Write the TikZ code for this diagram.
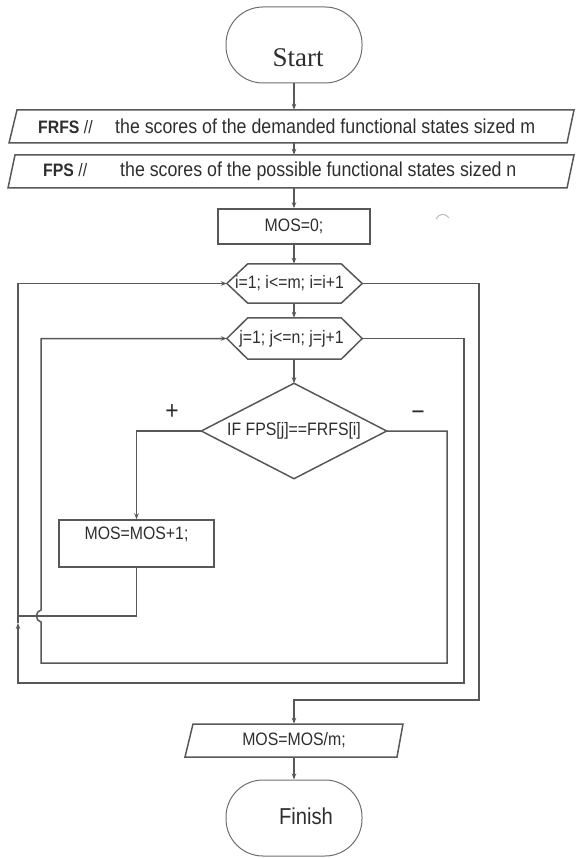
\documentclass[tikz,border=0pt]{standalone}
\usepackage{fontspec}
\setmainfont{Liberation Sans}[FakeStretch=0.88]
\newfontfamily\startfont{Liberation Serif}
\usetikzlibrary{arrows.meta}
\definecolor{linec}{HTML}{585858}
\definecolor{textc}{HTML}{2E2E2E}
\definecolor{termc}{HTML}{6E6E6E}
\begin{document}
\begin{tikzpicture}[x=1pt,y=-1pt,
  ln/.style={draw=linec, line width=1.5pt},
  arr/.style={ln, -{Stealth[length=6pt,width=4.5pt]}},
  term/.style={draw=termc, line width=1pt, rectangle, rounded corners=37pt,
    minimum width=136pt, minimum height=76pt, inner sep=0pt, text=textc},
  procbox/.style={ln, rectangle, inner sep=0pt, text=textc,
    font=\fontsize{18}{20}\selectfont},
  plain/.style={inner sep=0pt, text=textc, font=\fontsize{18}{20}\selectfont},
  desc/.style={anchor=west, inner sep=0pt, minimum height=33pt, text=textc,
    font=\fontsize{20.2}{22}\selectfont},
  sign/.style={inner sep=0pt, text=textc, font=\fontsize{26}{26}\selectfont}]
\useasboundingbox (0,0) rectangle (575,858);

% terminals
\node[term, text height=44pt, text depth=0pt,
  font=\startfont\fontsize{27}{27}\selectfont] (start) at (294,45) {\hspace*{8pt}Start};
\node[term, text height=12.5pt, text depth=0pt,
  font=\fontsize{23}{23}\selectfont] (finish) at (294,818) {\hspace*{24pt}Finish};

% input parallelograms
\node[desc] (frfs) at (38,126.5)
  {\makebox[77pt][l]{\fontsize{18}{20}\selectfont\textbf{FRFS} //}the scores of the demanded functional states sized m};
\draw[ln] (17,110) -- (574,110) -- (567,143) -- (9,143) -- cycle;
\node[desc] (fps) at (38,171.5)
  {\hspace*{5pt}\makebox[77pt][l]{\fontsize{18}{20}\selectfont\textbf{FPS} //}the scores of the possible functional states sized n};
\draw[ln] (15,155) -- (574,155) -- (567,188) -- (8,188) -- cycle;

% process boxes
\node[procbox, minimum width=152pt, minimum height=35pt] (mos0) at (294,226.5) {MOS=0;};
\node[procbox, minimum width=155pt, minimum height=47pt, text height=0pt, text depth=8pt]
  (mos1) at (136.5,543.5) {MOS=MOS+1;};

% loop hexagons
\node[plain, minimum width=135pt, minimum height=39pt] (ihex) at (294.5,283.5)
  {i=1; i<=m; i=i+1\hspace*{10pt}};
\draw[ln] (ihex.west) -- ([xshift=21pt]ihex.north west) -- ([xshift=-21pt]ihex.north east)
  -- (ihex.east) -- ([xshift=-21pt]ihex.south east) -- ([xshift=21pt]ihex.south west) -- cycle;
\node[plain, minimum width=135pt, minimum height=41pt] (jhex) at (294.5,338.5)
  {j=1; j<=n; j=j+1\hspace*{6pt}};
\draw[ln] (jhex.west) -- ([xshift=21pt]jhex.north west) -- ([xshift=-21pt]jhex.north east)
  -- (jhex.east) -- ([xshift=-21pt]jhex.south east) -- ([xshift=21pt]jhex.south west) -- cycle;

% decision
\node[plain, minimum width=185pt, minimum height=95pt] (dia) at (294,431)
  {IF FPS[j]==FRFS[i]};
\draw[ln] (dia.west) -- (dia.north) -- (dia.east) -- (dia.south) -- cycle;
\node[sign] (plus) at (172,412) {+};
\node[sign] (minus) at (418,416) {−};

% output parallelogram
\node[plain, minimum width=205pt, minimum height=33pt] (mosm) at (294,740.5) {MOS=MOS/m;};
\draw[ln] (193,724) -- (403,724) -- (397,757) -- (185,757) -- cycle;

% stray mark
\draw[gray!55, line width=1pt] (436,219) .. controls (439,213) and (446,213) .. (449,218);

% loop corner coordinates
\coordinate (cjoin) at (18,616);
\coordinate (cm) at (447,663);
\coordinate (cb1) at (41,622);
\coordinate (cb2) at (41,610);
\coordinate (cj) at (464,683);
\coordinate (cup) at (18,623);
\coordinate (ci) at (479,700);

% connectors
\draw[arr] (start.south) -- (start.south |- frfs.north);
\draw[arr] (start.south |- frfs.south) -- (start.south |- fps.north);
\draw[arr] (mos0.north |- fps.south) -- (mos0.north);
\draw[arr] (mos0.south) -- (mos0.south |- ihex.north);
\draw[arr] (mos0.south |- ihex.south) -- (mos0.south |- jhex.north);
\draw[arr] (mos0.south |- jhex.south) -- (dia.north);
\draw[arr] (dia.west) -| (mos1.north);
\draw[ln] (mos1.south) |- (cjoin);
\draw[arr] (dia.east) -| (cm) -| (cb1) .. controls (35,621) and (35,611) .. (cb2) |- (jhex.west);
\draw[arr] (jhex.east) -| (cj) -| (cup);
\draw[arr] (cup) |- (ihex.west);
\draw[arr] (ihex.east) -| (ci) -| (mosm.north);
\draw[arr] (mosm.south) -- (finish.north);
\end{tikzpicture}
\end{document}
